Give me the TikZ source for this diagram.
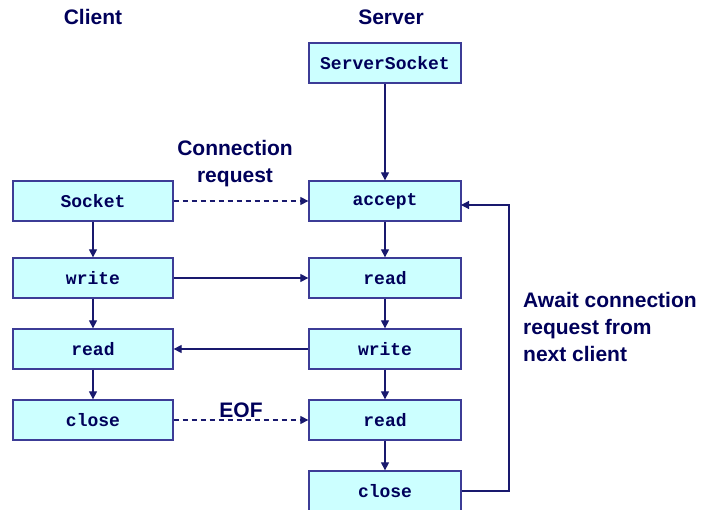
\documentclass[tikz,border=0pt]{standalone}
\usepackage{fontspec}
\setmainfont{Liberation Sans}
\setmonofont{Liberation Mono}
\usetikzlibrary{arrows.meta}
\definecolor{BoxFill}{RGB}{204,255,255}
\definecolor{BoxLine}{RGB}{60,60,150}
\definecolor{ArrowNavy}{RGB}{25,25,110}
\definecolor{TextNavy}{RGB}{0,0,90}

\tikzset{
  callbox/.style={draw=BoxLine, fill=BoxFill, line width=1.3pt, minimum height=40pt, inner sep=0pt,
    font=\fontsize{18}{20}\selectfont\ttfamily\bfseries, text=TextNavy},
  clientbox/.style={callbox, minimum width=160pt},
  serverbox/.style={callbox, minimum width=152pt},
  flow/.style={draw=ArrowNavy, line width=1.2pt, -{Triangle[length=8pt,width=8pt]}},
  netflow/.style={flow, dash pattern=on 5pt off 4pt},
  lbl/.style={font=\fontsize{21}{27}\selectfont\bfseries, text=TextNavy, inner sep=0pt}
}

\begin{document}
\begin{tikzpicture}[x=1pt, y=-1pt]
\pgfmathsetmacro{\xc}{93}  % client column
\pgfmathsetmacro{\xs}{385} % server column
\useasboundingbox (0,0) rectangle (703,510);

\node[lbl] (clienthead) at (\xc, 17) {Client};
\node[lbl] (serverhead) at (391, 17) {Server};

\node[serverbox] (ssock) at (\xs, 63) {ServerSocket};

\node[clientbox] (csock) at (\xc, 201) {Socket};
\node[clientbox] (cwrite) at (\xc, 278) {write};
\node[clientbox] (cread) at (\xc, 349) {read};
\node[clientbox] (cclose) at (\xc, 420) {close};

\node[serverbox] (saccept) at (\xs, 201) {accept};
\node[serverbox] (sread) at (\xs, 278) {read};
\node[serverbox] (swrite) at (\xs, 349) {write};
\node[serverbox] (sreadb) at (\xs, 420) {read};
\node[serverbox] (sclose) at (\xs, 491) {close};

% vertical flow
\draw[flow] (ssock) -- (saccept);
\draw[flow] (saccept) -- (sread);
\draw[flow] (sread) -- (swrite);
\draw[flow] (swrite) -- (sreadb);
\draw[flow] (sreadb) -- (sclose);
\draw[flow] (csock) -- (cwrite);
\draw[flow] (cwrite) -- (cread);
\draw[flow] (cread) -- (cclose);

% between client and server
\draw[netflow] (csock) -- (saccept);
\draw[flow] (cwrite) -- (sread);
\draw[flow] (swrite) -- (cread);
\draw[netflow] (cclose) -- (sreadb);

% loop back
\coordinate (loopin) at (461, 205);
\draw[flow] (sclose.east) -| (509, 205) -- (loopin);

\node[lbl, align=center] (connlbl) at (235, 164) {Connection\\request};
\node[lbl] (eoflbl) at (241, 410) {EOF};
\node[lbl, align=left, anchor=north west] (awaitlbl) at (523, 292) {Await connection\\request from\\next client};
\end{tikzpicture}
\end{document}
